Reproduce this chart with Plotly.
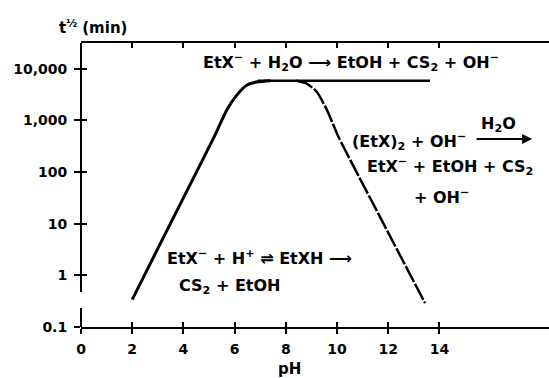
import plotly.graph_objects as go

# half-life of ethyl xanthate vs pH
rise_ph = [2.0, 3.2, 4.4, 5.2, 5.7, 6.1, 6.5, 6.9, 7.4]
rise_t = [0.34, 5.2, 78, 480, 1620, 3160, 4900, 5600, 5900]

fall_ph = [8.4, 8.8, 9.2, 9.6, 10.05, 11.5, 13.44]
fall_t = [5900, 5250, 3630, 1620, 490, 20, 0.29]

flat_ph = [6.9, 13.63]
flat_t = [5900, 5900]

tick_ph = [0, 2, 4, 6, 8, 10, 12, 14]
tick_t = [0.1, 1, 10, 100, 1000, 10000]
tick_t_text = ["0.1", "1", "10", "100", "1,000", "10,000"]

FONT = "DejaVu Sans"
BLACK = "black"

fig = go.Figure()
fig.add_trace(go.Scatter(x=rise_ph, y=rise_t, mode="lines", line=dict(color=BLACK, width=3, shape="spline", smoothing=0.6)))
fig.add_trace(go.Scatter(x=fall_ph, y=fall_t, mode="lines", line=dict(color=BLACK, width=2.5, shape="spline", smoothing=0.6, dash="18px,2px")))
fig.add_trace(go.Scatter(x=flat_ph, y=flat_t, mode="lines", line=dict(color=BLACK, width=2.5), xaxis="x2", yaxis="y2"))

xr = [0, 18.28]
yr = [-1, 4.5]
tf = dict(family=FONT, size=14, color=BLACK, weight="bold")

fig.update_layout(
    width=549, height=378, autosize=False,
    margin=dict(l=81, r=0, t=43, b=51, pad=0),
    paper_bgcolor="white", plot_bgcolor="white",
    showlegend=False,
    font=dict(family=FONT, color=BLACK, size=14),
    xaxis=dict(range=xr, tickvals=tick_ph, ticks="outside", ticklen=5, tickwidth=1.5, tickcolor=BLACK,
               showline=True, linewidth=2, linecolor=BLACK, mirror=True, showgrid=False, zeroline=False,
               ticklabelstandoff=3, tickfont=tf, automargin=False),
    xaxis2=dict(range=xr, overlaying="x", tickvals=tick_ph, ticks="inside", ticklen=5, tickwidth=1.5, tickcolor=BLACK,
                mirror="ticks", showline=False, showticklabels=False, showgrid=False, zeroline=False, automargin=False),
    yaxis=dict(type="log", range=yr, tickvals=tick_t, ticktext=tick_t_text, ticks="outside", ticklen=6, tickwidth=1.5,
               tickcolor=BLACK, showline=False, showgrid=False, zeroline=False, ticklabelstandoff=4, tickfont=tf,
               automargin=False),
    yaxis2=dict(type="log", range=yr, overlaying="y", tickvals=tick_t[1:], ticks="inside", ticklen=6, tickwidth=1.5,
                tickcolor=BLACK, showline=False, showticklabels=False, showgrid=False, zeroline=False, automargin=False),
)

# y axis line with a break between 0.1 and 1
for y0, y1 in [(0, 0.067), (0.123, 1)]:
    fig.add_shape(type="line", xref="paper", yref="paper", x0=0, x1=0, y0=y0, y1=y1, line=dict(color=BLACK, width=2))

def note(text, x, y, anchor="left", size=16, **kw):
    fig.add_annotation(text=text, x=x, y=y, xanchor=anchor, yanchor="middle", showarrow=False,
                       font=dict(family=FONT, size=size, color=BLACK, weight="bold"), **kw)

M = "<sup>\u2212</sup>"
note("EtX" + M + " + H<sub>2</sub>O \u27f6 EtOH + CS<sub>2</sub> + OH" + M, 10.55, 4.12, anchor="center")
note("(EtX)<sub>2</sub> + OH" + M, 10.51, 2.585)
note("H<sub>2</sub>O", 16.29, 2.915, anchor="center")
fig.add_annotation(x=17.62, y=2.643, ax=15.39, ay=2.643, axref="x", ayref="y", text="", showarrow=True,
                   arrowhead=2, arrowsize=1, arrowwidth=2, arrowcolor=BLACK)
note("EtX" + M + " + EtOH + CS<sub>2</sub>", 11.09, 2.10)
note("+ OH" + M, 12.93, 1.52)
note("EtX" + M + " + H<sup>+</sup> \u21cc EtXH \u27f6", 3.28, 0.337)
note("CS<sub>2</sub> + EtOH", 3.75, -0.225)
note("pH", 8.16, -0.148, anchor="center", size=15, yref="paper")
note("t<sup>\u00bd</sup> (min)", -0.051, 1.056, anchor="left", size=15, xref="paper", yref="paper")

fig.write_html("out.html", config={"displayModeBar": False},
               post_script="document.body.style.margin='0px';")
